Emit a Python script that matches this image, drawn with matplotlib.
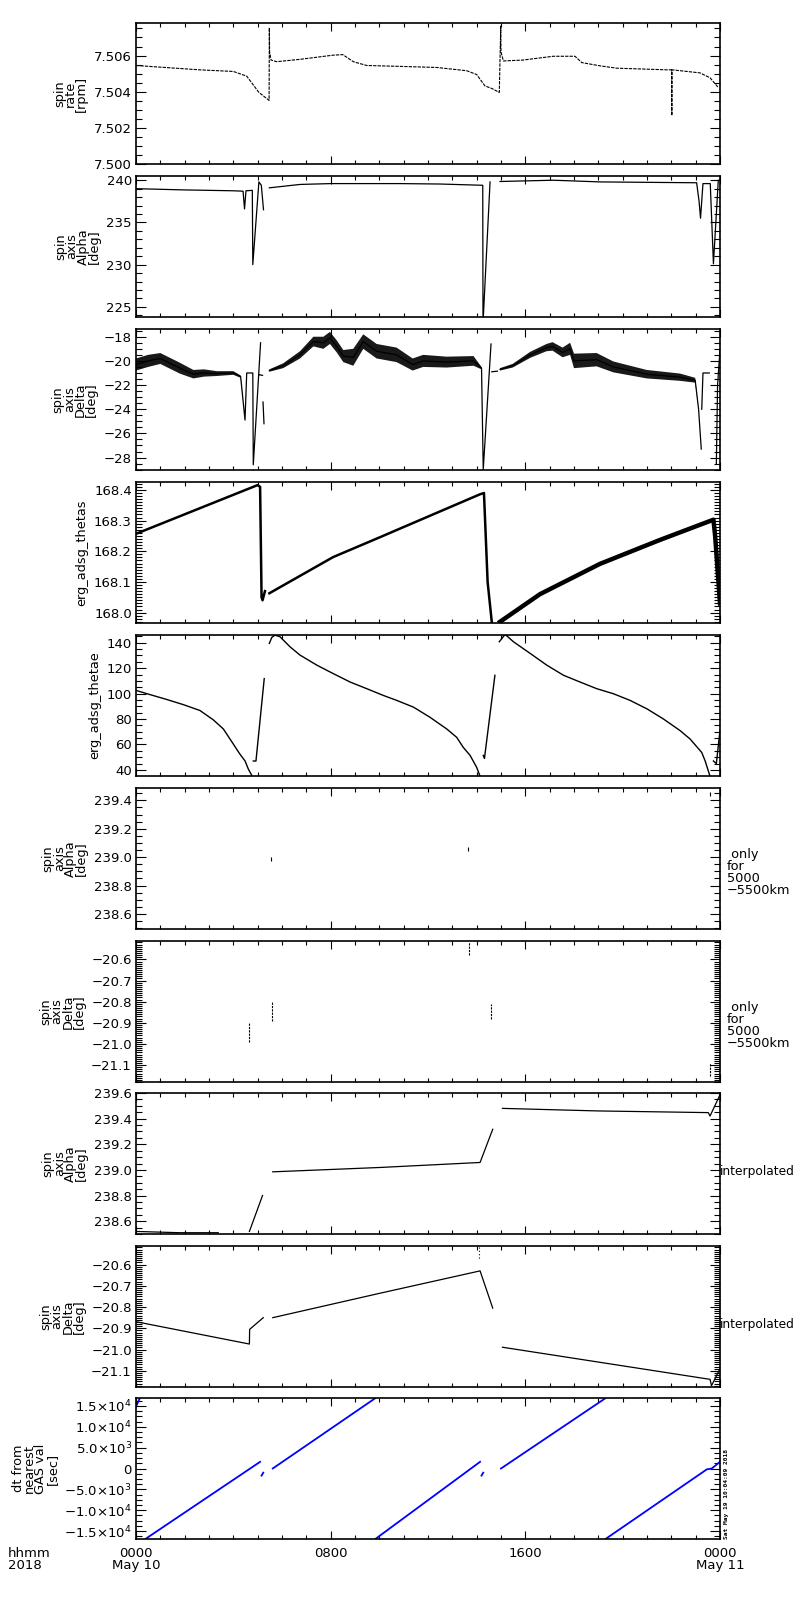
import numpy as np
import matplotlib
matplotlib.use('Agg')
import matplotlib.pyplot as plt
from matplotlib.ticker import MultipleLocator, FixedLocator, FuncFormatter

nan = np.nan

# time in hours since 0000 May 10 2018

# spin rate [rpm]
spin_t = [0, 2.6, 4.0, 4.55, 5.05, 5.47, 5.48, 5.49, 5.55, 5.78, 6.74, 8.1, 8.5, 8.93, 9.48,
          10.85, 12.36, 13.59, 14.0, 14.34, 14.62, 14.93, 14.99, 15.0, 15.1, 15.9, 17.15, 18.04,
          18.32, 19.07, 19.76, 21.81, 22.01, 22.02, 22.03, 23.18, 23.59, 23.93]
spin_v = [7.50545, 7.50521, 7.50512, 7.50486, 7.50396, 7.50352, 7.50754, 7.5062, 7.50575, 7.50566,
          7.50579, 7.50602, 7.50605, 7.50566, 7.50545, 7.50540, 7.50534, 7.50516, 7.50495, 7.50432,
          7.50418, 7.50396, 7.50763, 7.5062, 7.5057, 7.50575, 7.50596, 7.50596, 7.50561, 7.50543,
          7.50530, 7.50521, 7.50521, 7.50268, 7.50521, 7.50504, 7.50477, 7.50423]

# spin axis alpha [deg]
alpha_t = [0, 2.0, 4.0, 4.40, 4.46, 4.52, 4.78, 4.80, 5.05, 5.15, 5.24, nan,
           5.48, 6.74, 8.0, 10.85, 12.5, 14.25, 14.26, 14.55, nan,
           14.96, 17.15, 19.07, 21.0, 23.04, 23.14, 23.2, 23.3, 23.6, 23.73, 23.93, 24.0]
alpha_v = [239.0, 238.85, 238.75, 238.7, 236.6, 238.75, 238.8, 230.0, 239.8, 239.4, 236.5, nan,
           239.1, 239.5, 239.6, 239.6, 239.55, 239.4, 223.0, 239.8, nan,
           239.85, 240.0, 239.8, 239.75, 239.7, 237.5, 235.5, 239.6, 239.6, 230.1, 240.0, 240.0]

# spin axis delta [deg], centre of the scatter and half width of the scatter band
delta_t = [0, 0.5, 1.0, 1.4, 1.8, 2.36, 2.8, 3.32, 4.0, 4.3, 4.48, 4.55, 4.8, 4.82, 5.12, nan,
           5.08, 5.2, nan, 5.22, 5.26, nan,
           5.48, 6.05, 6.74, 7.29, 7.7, 7.97, 8.25, 8.52, 8.93, 9.34, 9.89, 10.71, 11.37, 11.8,
           12.77, 13.87, 14.2, 14.27, 14.59, nan, 14.62, 14.85, nan,
           14.96, 15.48, 16.2, 16.87, 17.12, 17.53, 17.84, 18.0, 18.93, 19.62, 20.99, 22.36, 22.98,
           23.12, 23.23, nan, 23.25, 23.3, 23.56, nan, 23.85, 23.9, 24.0]
delta_v = [-20.3, -20.0, -19.8, -20.2, -20.6, -21.1, -21.0, -21.05, -21.0, -21.3, -24.9, -21.0, -21.0,
           -28.6, -18.5, nan, -21.15, -21.2, nan, -23.4, -25.2, nan,
           -20.8, -20.4, -19.5, -18.4, -18.5, -18.1, -18.8, -19.6, -19.7, -18.4, -19.2, -19.5, -20.3,
           -20.0, -20.1, -20.0, -20.6, -29.0, -18.6, nan, -20.9, -20.85, nan,
           -20.7, -20.4, -19.5, -18.9, -18.8, -19.3, -19.0, -20.0, -19.9, -20.5, -21.1, -21.35, -21.6,
           -24.0, -27.3, nan, -24.0, -21.0, -21.0, nan, -28.5, -22.0, -19.1]
delta_w = [0.5, 0.5, 0.45, 0.45, 0.45, 0.35, 0.3, 0.2, 0.15, 0.1, 0, 0, 0, 0, 0, nan,
           0, 0, nan, 0, 0, nan,
           0.1, 0.2, 0.3, 0.4, 0.5, 0.5, 0.5, 0.5, 0.7, 0.6, 0.6, 0.6, 0.5, 0.5,
           0.45, 0.4, 0.1, 0, 0, nan, 0, 0, nan,
           0.1, 0.15, 0.25, 0.3, 0.35, 0.4, 0.5, 0.6, 0.55, 0.45, 0.35, 0.3, 0.2,
           0, 0, nan, 0, 0, 0, nan, 0, 0, 0]

# erg_adsg_thetas: first ramp (thin) and second ramp (thicker band)
thetas_t1 = [0, 5.0, 5.1, 5.16, 5.2, 5.3, nan, 5.48, 8.1, 10.03, 10.85, 14.14, 14.3, 14.45, 14.62]
thetas_v1 = [168.257, 168.416, 168.41, 168.05, 168.04, 168.07, nan, 168.063, 168.181, 168.246,
             168.274, 168.386, 168.39, 168.1, 167.97]
thetas_t2 = [14.96, 16.6, 19.07, 21.5, 23.73, 23.8, 24.0]
thetas_v2 = [167.97, 168.06, 168.159, 168.236, 168.303, 168.25, 168.03]

# erg_adsg_thetae
thetae_t = [0, 0.58, 1.26, 1.95, 2.63, 3.18, 3.59, 4.0, 4.27, 4.48, 4.62, 4.75, 4.8, nan,
            4.82, 4.93, 5.27, nan,
            5.48, 5.58, 5.71, 5.92, 6.33, 6.74, 7.43, 8.1, 8.8, 9.48, 10.16, 10.71, 11.4, 12.08,
            12.77, 13.18, 13.45, 13.73, 14.0, 14.14, nan,
            14.27, 14.32, 14.75, nan,
            14.93, 15.17, 15.51, 16.2, 16.88, 17.57, 18.25, 18.93, 19.62, 20.3, 21.0, 21.67, 22.36,
            22.77, 23.25, 23.39, 23.59, nan, 23.73, 23.85, 24.0]
thetae_v = [102.5, 99.2, 95.4, 91.3, 86.7, 79.3, 72.2, 60.3, 52.4, 47.1, 40.5, 36.0, 33.0, nan,
            47.0, 47.0, 111.8, nan,
            139.5, 144.2, 146.0, 144.7, 136.8, 130.3, 122.4, 115.8, 109.1, 103.9, 98.6, 94.7, 89.4,
            81.4, 72.2, 65.6, 57.7, 51.4, 42.0, 35.0, nan,
            51.4, 49.0, 114.4, nan,
            140.8, 146.6, 140.8, 131.6, 122.4, 114.4, 109.1, 103.9, 99.9, 94.7, 88.0, 80.1, 70.9,
            64.3, 53.7, 47.0, 35.0, nan, 47.0, 45.0, 71.0]

# only for 5000-5500km: short marks (time, low, high)
alpha_km_t = [5.54, 13.65, 23.6]
alpha_km_lo = [238.97, 239.04, 239.43]
alpha_km_hi = [239.00, 239.07, 239.46]
delta_km_t = [4.66, 5.58, 13.7, 14.6, 23.6]
delta_km_lo = [-20.99, -20.89, -20.58, -20.88, -21.15]
delta_km_hi = [-20.90, -20.80, -20.52, -20.81, -21.09]

# interpolated alpha / delta
alpha_int_t = [0, 1.8, 3.38, nan, 4.66, 5.2, nan, 5.62, 10.03, 14.14, 14.66, nan,
               15.06, 19.0, 23.52, 23.59, 24.0]
alpha_int_v = [238.52, 238.51, 238.51, nan, 238.52, 238.8, nan, 238.985, 239.019, 239.058, 239.317, nan,
               239.48, 239.46, 239.447, 239.42, 239.586]
delta_int_t = [0, 4.66, 4.67, 5.23, nan, 5.62, 10.03, 14.14, 14.66, nan, 15.06, 23.59, 23.65, 24.0]
delta_int_v = [-20.869, -20.974, -20.905, -20.85, nan, -20.85, -20.735, -20.63, -20.805, nan,
               -20.989, -21.14, -21.17, -21.09]
delta_int_dot_t = [14.1, 14.1]
delta_int_dot_v = [-20.52, -20.58]

# dt from nearest GAS val [sec]
dt_t = [0, 0.15, nan, 0.41, 5.10, nan, 5.16, 5.23, nan, 5.62, 9.82, nan,
        9.86, 14.14, nan, 14.2, 14.27, nan, 15.0, 19.28, nan, 19.32, 23.46, 23.66, 24.0]
dt_v = [14800, 16800, nan, -16800, 1600, nan, -1700, -1000, nan, 0, 16800, nan,
        -16800, 1600, nan, -1700, -1000, nan, 0, 16800, nan, -16800, -200, 0, 1600]
dt_ticks = [-15000, -10000, -5000, 0, 5000, 10000, 15000]
dt_labels = [r'$-$1.5$\times$10$^4$', r'$-$1.0$\times$10$^4$', r'$-$5.0$\times$10$^3$', '0',
             r'5.0$\times$10$^3$', r'1.0$\times$10$^4$', r'1.5$\times$10$^4$']

x_ticks = [0, 8, 16, 24]
x_labels = ['0000\nMay 10', '0800', '1600', '0000\nMay 11']

plt.rcParams['font.family'] = ['DejaVu Sans']
plt.rcParams['axes.unicode_minus'] = True

fig = plt.figure(figsize=(8, 16), dpi=100)
tops = [23, 176, 329, 482, 635, 788, 941, 1093, 1246, 1398]
axes = []
for top in tops:
    axes.append(fig.add_axes([136 / 800, 1 - (top + 141) / 1600, 584 / 800, 141 / 1600]))


def style(ax, ylim, major, minor, fmt, label):
    ax.set_xlim(0, 24)
    ax.set_ylim(*ylim)
    ax.xaxis.set_major_locator(FixedLocator(x_ticks))
    ax.xaxis.set_minor_locator(MultipleLocator(1))
    if major is not None:
        ax.yaxis.set_major_locator(MultipleLocator(major))
        ax.yaxis.set_major_formatter(FuncFormatter(lambda v, p: (fmt % v).replace('-', '\u2212')))
    ax.yaxis.set_minor_locator(MultipleLocator(minor))
    ax.tick_params(axis='both', which='both', direction='in', top=True, right=True,
                   width=0.8, labelsize=9.5, colors='black')
    ax.tick_params(axis='y', which='major', length=7.5, pad=3)
    ax.tick_params(axis='y', which='minor', length=4.5)
    ax.tick_params(axis='x', which='major', length=6)
    ax.tick_params(axis='x', which='minor', length=3)
    ax.tick_params(axis='x', labelbottom=False)
    for s in ax.spines.values():
        s.set_linewidth(1.2)
    ax.set_ylabel(label, fontsize=9.3, linespacing=0.82, labelpad=4)
    ax.yaxis.label.set_multialignment('center')


k = 'black'

ax = axes[0]
ax.plot(spin_t, spin_v, color=k, lw=0.8, ls=(0, (3, 1)))
style(ax, (7.500, 7.5078), 0.002, 0.0005, '%.3f', 'spin\nrate\n[rpm]')

ax = axes[1]
ax.plot(alpha_t, alpha_v, color=k, lw=0.9)
style(ax, (223.8, 240.5), 5, 1, '%d', 'spin\naxis\nAlpha\n[deg]')

ax = axes[2]
dt_arr = np.array(delta_t)
dv = np.array(delta_v)
dw = np.array(delta_w)
ax.fill_between(dt_arr, dv - dw, dv + dw, color=k, alpha=0.9, lw=0)
ax.plot(delta_t, delta_v, color=k, lw=0.9)
style(ax, (-29.03, -17.36), 2, 0.5, '%d', 'spin\naxis\nDelta\n[deg]')

ax = axes[3]
ax.plot(thetas_t1, thetas_v1, color=k, lw=1.8)
ax.plot(thetas_t2, thetas_v2, color=k, lw=3.2)
style(ax, (167.966, 168.426), 0.1, 0.01, '%.1f', 'erg_adsg_thetas')

ax = axes[4]
ax.plot(thetae_t, thetae_v, color=k, lw=1.0)
style(ax, (35.2, 146.1), 20, 5, '%d', 'erg_adsg_thetae')

ax = axes[5]
ax.vlines(alpha_km_t, alpha_km_lo, alpha_km_hi, color=k, lw=0.8)
style(ax, (238.494, 239.487), 0.2, 0.05, '%.1f', 'spin\naxis\nAlpha\n[deg]')

ax = axes[6]
ax.vlines(delta_km_t, delta_km_lo, delta_km_hi, color=k, lw=0.8, ls=(0, (2, 1)))
style(ax, (-21.18, -20.513), 0.1, 0.01, '%.1f', 'spin\naxis\nDelta\n[deg]')

ax = axes[7]
ax.plot(alpha_int_t, alpha_int_v, color=k, lw=0.9)
style(ax, (238.5, 239.6), 0.2, 0.05, '%.1f', 'spin\naxis\nAlpha\n[deg]')

ax = axes[8]
ax.plot(delta_int_t, delta_int_v, color=k, lw=0.9)
ax.plot(delta_int_dot_t, delta_int_dot_v, color=k, lw=0.8, ls=(0, (1, 2)))
style(ax, (-21.176, -20.513), 0.1, 0.01, '%.1f', 'spin\naxis\nDelta\n[deg]')

ax = axes[9]
ax.plot(dt_t, dt_v, color='#0000ff', lw=1.3)
style(ax, (-16900, 16900), None, 1250, None, 'dt from\nnearest\nGAS val\n[sec]')
ax.yaxis.set_major_locator(FixedLocator(dt_ticks))
ax.set_yticklabels(dt_labels)
ax.set_xticks(x_ticks)
ax.set_xticklabels(x_labels, linespacing=0.9)
ax.tick_params(axis='x', labelbottom=True, pad=6)

# right side notes
for i in [5, 6]:
    axes[i].text(1.012, 0.4, ' only\nfor\n5000\n\u22125500km', transform=axes[i].transAxes,
                 fontsize=9.3, ha='left', va='center', linespacing=0.9)
for i in [7, 8]:
    axes[i].text(1.0, 0.44, 'interpolated', transform=axes[i].transAxes,
                 fontsize=8.8, ha='left', va='center')

axes[9].text(1.006, 0.0, 'Sat May 19 10:04:09 2018', transform=axes[9].transAxes, rotation=90,
             fontsize=4.5, ha='left', va='bottom', family='DejaVu Sans Mono', weight='bold')

fig.text(8 / 800, 1 - 1547 / 1600, 'hhmm\n2018', fontsize=9.5, ha='left', va='top', linespacing=0.9)

fig.savefig('out.png', dpi=100, facecolor='white')
